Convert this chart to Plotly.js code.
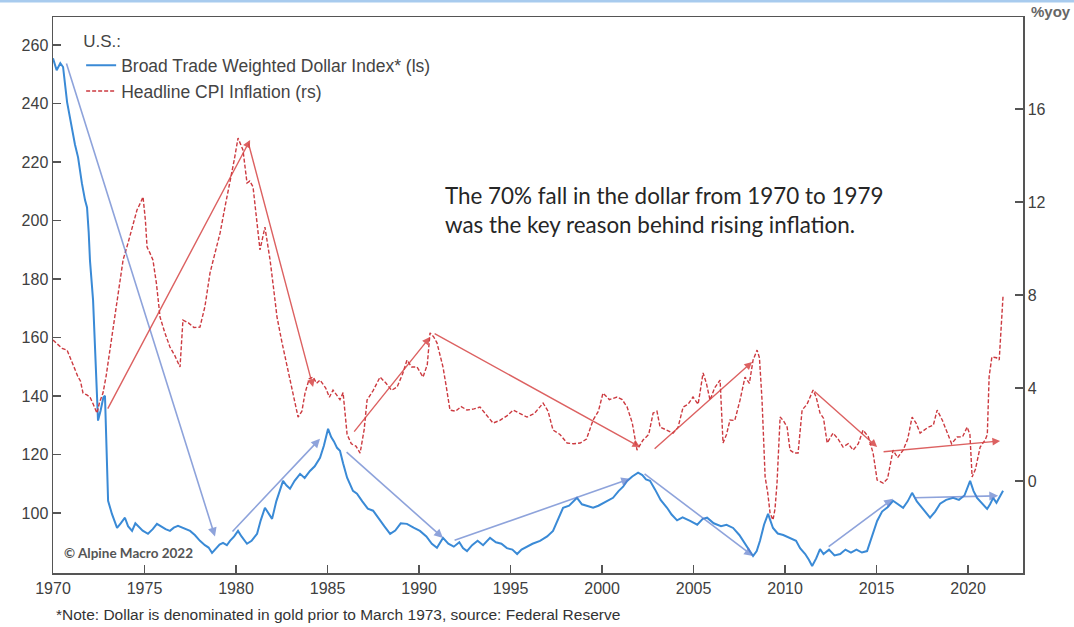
<!DOCTYPE html>
<html>
<head>
<meta charset="utf-8">
<script src="https://cdn.plot.ly/plotly-3.0.1.min.js"></script>
<style>
  html, body { margin: 0; padding: 0; background: #fff; }
  #chart { width: 1074px; height: 627px; }
</style>
</head>
<body>
<div id="chart"></div>
<script>
// ---- Data ----
const dollarYears = [1970.00,1970.20,1970.40,1970.55,1970.77,1971.04,1971.20,1971.37,1971.50,1971.58,1971.75,1971.86,1971.95,1972.02,1972.19,1972.30,1972.40,1972.46,1972.60,1972.75,1972.84,1972.95,1973.01,1973.22,1973.50,1973.70,1973.93,1974.10,1974.32,1974.50,1974.64,1974.90,1975.19,1975.45,1975.68,1975.95,1976.15,1976.39,1976.60,1976.83,1977.10,1977.49,1977.75,1978.03,1978.30,1978.50,1978.69,1978.90,1979.10,1979.29,1979.50,1979.67,1979.90,1980.11,1980.30,1980.60,1980.85,1981.15,1981.35,1981.58,1981.80,1981.97,1982.20,1982.40,1982.57,1982.75,1982.95,1983.20,1983.50,1983.75,1984.04,1984.30,1984.59,1984.80,1985.03,1985.20,1985.35,1985.52,1985.68,1985.85,1986.07,1986.39,1986.61,1986.90,1987.20,1987.49,1987.80,1988.10,1988.42,1988.70,1989.00,1989.34,1989.70,1990.05,1990.40,1990.70,1990.98,1991.31,1991.60,1991.90,1992.20,1992.40,1992.62,1992.90,1993.20,1993.50,1993.88,1994.20,1994.50,1994.80,1995.10,1995.36,1995.60,1995.90,1996.20,1996.61,1997.00,1997.32,1997.60,1997.87,1998.20,1998.63,1998.90,1999.20,1999.51,1999.80,2000.10,2000.60,2000.90,2001.15,2001.37,2001.65,2001.97,2002.20,2002.40,2002.62,2002.90,2003.20,2003.55,2003.80,2004.10,2004.40,2004.81,2005.20,2005.50,2005.74,2006.10,2006.50,2006.80,2007.16,2007.50,2007.80,2008.00,2008.25,2008.45,2008.63,2008.85,2009.07,2009.34,2009.60,2009.90,2010.27,2010.60,2010.82,2011.10,2011.30,2011.48,2011.70,2011.91,2012.10,2012.40,2012.70,2013.01,2013.30,2013.60,2013.90,2014.20,2014.48,2014.75,2015.03,2015.30,2015.60,2015.90,2016.20,2016.45,2016.70,2016.94,2017.20,2017.50,2017.70,2017.92,2018.20,2018.47,2018.80,2019.18,2019.50,2019.80,2020.11,2020.30,2020.49,2020.75,2021.04,2021.20,2021.37,2021.55,2021.75,2021.91];
const dollarIndex = [255.5,251.4,253.8,252.5,240.5,230.5,226,221.6,215,212.7,207,204.5,196,186.4,172.7,155,137,131.6,135,139.5,140.1,117.9,104.2,99.7,94.9,96.5,98.4,95.5,93.9,96.5,95.6,94.0,92.9,94.5,96.3,95.2,94.5,93.9,95.0,95.6,95.0,93.9,92.5,90.5,89.0,88.2,86.4,88.0,89.2,89.8,89.0,90.5,92.0,93.9,92.0,89.5,90.5,92.9,97.5,101.8,99.5,98.0,104,108,111.0,109.5,108.3,111,113.4,112,114.4,116,118.9,123,128.8,126,124.5,122.3,121.3,117,112.1,107.6,106.6,104,101.5,100.8,98,95.5,92.9,94,96.5,96.3,95,93.9,92,89.5,88.1,91.5,89.5,88.5,90,88,87.0,89,90.5,89,91.5,90,89.5,88,87.5,86.0,87.5,88.5,89.5,90.5,92,93.9,98,101.8,102.5,105.2,103,102.5,101.8,102.5,103.5,105.2,107.5,109,111.0,112.5,113.8,113,111.5,111.0,108,104.5,101.8,99.5,97.5,98.5,97.3,96,98,98.4,96.5,95.5,96,94.9,92.5,89.5,87.5,85.3,87,90.5,96,99.7,94.9,93,92.5,91.5,90.5,88,86,84,81.9,84.5,87.7,86,87.5,85.5,86.0,87.5,86.5,87.5,86.5,87.0,92,97.3,100.5,102,104.2,103,101.8,104,106.9,104,101.5,100,98.4,100.5,103.2,104.5,105.2,104.5,106,111.0,107.5,105.2,103.5,101.4,103,105.2,103.5,106,107.6];

const cpiYears = [1970.00,1970.25,1970.50,1970.77,1971.04,1971.20,1971.37,1971.50,1971.64,1971.85,1972.02,1972.20,1972.40,1972.55,1972.73,1972.90,1973.11,1973.39,1973.60,1973.83,1974.10,1974.35,1974.59,1974.80,1974.92,1975.05,1975.14,1975.30,1975.46,1975.65,1975.85,1976.10,1976.39,1976.65,1976.94,1977.10,1977.40,1977.70,1978.03,1978.30,1978.58,1978.85,1979.13,1979.40,1979.67,1979.90,1980.11,1980.38,1980.60,1980.75,1980.93,1981.10,1981.31,1981.58,1981.86,1982.05,1982.24,1982.50,1982.79,1983.10,1983.39,1983.60,1983.77,1984.00,1984.21,1984.40,1984.59,1984.90,1985.10,1985.30,1985.68,1985.85,1986.07,1986.30,1986.55,1986.78,1987.00,1987.16,1987.50,1987.87,1988.20,1988.50,1988.80,1989.10,1989.34,1989.60,1989.89,1990.22,1990.45,1990.60,1990.80,1990.98,1991.31,1991.50,1991.69,1992.00,1992.30,1992.62,1993.00,1993.33,1993.70,1994.04,1994.40,1994.80,1995.14,1995.50,1995.90,1996.30,1996.78,1997.05,1997.32,1997.70,1998.09,1998.45,1998.80,1999.15,1999.51,1999.80,2000.05,2000.40,2000.82,2001.10,2001.37,2001.65,2001.91,2002.24,2002.55,2002.79,2003.00,2003.17,2003.50,2003.88,2004.15,2004.43,2004.70,2004.97,2005.25,2005.52,2005.70,2005.90,2006.15,2006.45,2006.61,2006.80,2006.99,2007.25,2007.54,2007.81,2008.05,2008.25,2008.47,2008.60,2008.74,2008.91,2009.05,2009.18,2009.34,2009.45,2009.56,2009.73,2009.90,2010.11,2010.27,2010.50,2010.71,2010.93,2011.20,2011.53,2011.70,2011.91,2012.10,2012.30,2012.62,2012.90,2013.17,2013.45,2013.72,2014.00,2014.26,2014.55,2014.81,2015.03,2015.36,2015.60,2015.90,2016.15,2016.45,2016.70,2016.94,2017.15,2017.38,2017.80,2018.10,2018.31,2018.60,2018.85,2019.10,2019.40,2019.70,2019.95,2020.10,2020.22,2020.40,2020.66,2020.93,2021.05,2021.15,2021.30,2021.55,2021.70,2021.80,2021.91];
const cpiYoY = [6.06,5.9,5.7,5.63,5.08,4.8,4.47,4.3,3.78,3.7,3.61,3.3,2.92,3.4,3.78,4.5,5.63,7.05,8.3,9.51,10.24,11.0,11.66,12.0,12.22,11.2,10.06,9.8,9.51,8.5,7.05,6.4,5.76,5.4,4.90,6.92,6.8,6.6,6.62,7.5,8.95,9.8,10.67,11.8,12.82,13.8,14.75,14.24,12.82,12.9,12.65,11.5,9.94,10.92,9.51,8.3,7.05,6.0,4.90,3.8,2.75,3.0,3.78,4.4,4.47,4.2,4.34,4.0,3.6,3.91,3.5,3.8,2.0,1.6,1.5,1.2,2.2,3.48,3.9,4.47,4.2,3.9,4.04,4.6,5.20,4.9,4.90,4.47,5.0,6.37,6.2,5.94,4.90,4.0,3.05,3.0,3.2,3.05,3.1,3.18,2.8,2.49,2.6,2.8,3.05,2.9,2.75,2.9,3.35,3.0,2.19,2.0,1.63,1.6,1.63,1.8,2.62,3.0,3.78,3.5,3.61,3.5,3.18,2.5,1.33,1.76,2.0,2.92,3.0,2.32,2.2,2.06,2.3,3.18,3.3,3.61,3.3,4.65,4.2,3.48,4.0,4.34,1.63,2.0,2.62,2.6,3.48,4.47,4.2,5.20,5.63,5.3,3.48,0.17,-0.5,-1.38,-1.68,-1.2,-0.09,2.75,2.6,2.32,1.33,1.2,1.20,3.05,3.3,3.91,3.6,2.92,2.7,1.63,2.06,1.8,1.46,1.6,1.33,1.6,2.19,1.9,1.20,0.04,-0.09,0.1,1.33,1.0,1.33,1.8,2.75,2.5,2.06,2.3,2.4,3.05,2.6,2.06,1.6,1.89,1.9,2.32,2.0,0.17,0.5,1.46,1.76,2.0,4.5,5.33,5.3,5.2,6.5,7.96];

// Trend arrows: [fromYear, fromValue, toYear, toValue]
const dollarArrows = [
  [1970.71, 254.2, 1978.85, 92.0],
  [1979.73, 93.2, 1984.59, 125.4],
  [1985.96, 121.3, 1991.31, 91.5],
  [1991.86, 90.5, 2001.53, 111.7],
  [2002.24, 113.8, 2008.25, 85.3],
  [2012.30, 88.1, 2015.90, 104.9],
  [2016.99, 105.2, 2021.64, 105.9]
];
const cpiArrows = [
  [1972.95, 3.05, 1980.77, 14.67],
  [1980.66, 14.58, 1984.21, 4.04],
  [1986.39, 2.06, 1990.60, 6.19],
  [1990.77, 6.37, 2002.08, 1.46],
  [2002.79, 1.33, 2008.20, 5.12],
  [2011.53, 3.91, 2015.03, 1.46],
  [2015.30, 1.25, 2021.75, 1.72]
];

const xTicks = [1970, 1975, 1980, 1985, 1990, 1995, 2000, 2005, 2010, 2015, 2020];
const leftTicks = [100, 120, 140, 160, 180, 200, 220, 240, 260];
const rightTicks = [0, 4, 8, 12, 16];

const seriesNames = ["Broad Trade Weighted Dollar Index* (ls)", "Headline CPI Inflation (rs)"];

// ---- Chart ----
const axisFont = { family: "Liberation Sans, Arial, sans-serif", size: 16, color: "#404040" };

const traces = [
  {
    x: dollarYears, y: dollarIndex, type: "scatter", mode: "lines",
    name: seriesNames[0], yaxis: "y",
    line: { color: "#3a8ad6", width: 2 }
  },
  {
    x: cpiYears, y: cpiYoY, type: "scatter", mode: "lines",
    name: seriesNames[1], yaxis: "y2",
    line: { color: "#cc3a40", width: 1.4, dash: "4px,2px" }
  }
];

const annotations = [];
dollarArrows.forEach(a => annotations.push({
  xref: "x", yref: "y", axref: "x", ayref: "y",
  x: a[2], y: a[3], ax: a[0], ay: a[1], text: "",
  showarrow: true, arrowhead: 2, arrowsize: 1.1, arrowwidth: 1.6,
  arrowcolor: "rgba(95,125,205,0.7)", standoff: 0
}));
cpiArrows.forEach(a => annotations.push({
  xref: "x", yref: "y2", axref: "x", ayref: "y2",
  x: a[2], y: a[3], ax: a[0], ay: a[1], text: "",
  showarrow: true, arrowhead: 2, arrowsize: 1.1, arrowwidth: 1.4,
  arrowcolor: "rgba(215,70,70,0.85)", standoff: 0
}));

annotations.push(
  {
    xref: "paper", yref: "paper", x: 0.402, y: 0.653, xanchor: "left", yanchor: "middle",
    align: "left", showarrow: false,
    text: "The 70% fall in the dollar from 1970 to 1979<br>was the key reason behind rising inflation.",
    font: { family: "Lato, 'Open Sans', sans-serif", size: 22.4, color: "#262626" }
  },
  {
    xref: "paper", yref: "paper", x: 0.009, y: 0.036, xanchor: "left", yanchor: "middle",
    showarrow: false, text: "© Alpine Macro 2022",
    font: { family: "Lato, sans-serif", size: 13.5, color: "#555", weight: "bold" }
  },
  {
    xref: "paper", yref: "paper", x: 0.001, y: -0.0755, xanchor: "left", yanchor: "middle",
    showarrow: false,
    text: "*Note: Dollar is denominated in gold prior to March 1973, source: Federal Reserve",
    font: { family: "Liberation Sans, Arial, sans-serif", size: 15.5, color: "#333" }
  },
  {
    xref: "paper", yref: "paper", x: 1.006, y: 1.009, xanchor: "left", yanchor: "middle",
    showarrow: false, text: "%yoy",
    font: { family: "Liberation Sans, Arial, sans-serif", size: 15, color: "#666", weight: "bold" }
  }
);

const layout = {
  width: 1074, height: 627,
  margin: { l: 53, r: 51, t: 17, b: 54, pad: 0 },
  paper_bgcolor: "#fff", plot_bgcolor: "#fff",
  showlegend: true,
  legend: {
    x: 0.029, y: 0.985, xanchor: "left", yanchor: "top",
    bgcolor: "rgba(0,0,0,0)",
    font: { family: "Liberation Sans, Arial, sans-serif", size: 17.5, color: "#444" },
    title: { text: "U.S.:", side: "top", font: { family: "Liberation Sans, Arial, sans-serif", size: 17, color: "#444" } },
    tracegroupgap: 0
  },
  xaxis: {
    range: [1970, 2023], tickvals: xTicks, ticktext: xTicks.map(String),
    ticks: "inside", ticklen: 8, tickcolor: "#555", tickwidth: 1.5,
    showline: true, linecolor: "#555", linewidth: 1.5, mirror: true,
    showgrid: false, zeroline: false, tickfont: axisFont
  },
  yaxis: {
    range: [79.5, 269.6], tickvals: leftTicks,
    ticks: "inside", ticklen: 8, tickcolor: "#555", tickwidth: 1.5,
    showline: true, linecolor: "#555", linewidth: 1.5,
    showgrid: false, zeroline: false, tickfont: axisFont
  },
  yaxis2: {
    range: [-3.96, 19.96], tickvals: rightTicks,
    overlaying: "y", side: "right",
    ticks: "inside", ticklen: 8, tickcolor: "#555", tickwidth: 1.5,
    showline: true, linecolor: "#555", linewidth: 1.5,
    showgrid: false, zeroline: false, tickfont: axisFont
  },
  shapes: [
    { type: "line", xref: "paper", yref: "paper", x0: -0.06, x1: 1.06, y0: 1.0288, y1: 1.0288,
      line: { color: "#a8cbee", width: 3 } }
  ],
  annotations: annotations
};

Plotly.newPlot("chart", traces, layout, { displayModeBar: false, staticPlot: true });
</script>
</body>
</html>
